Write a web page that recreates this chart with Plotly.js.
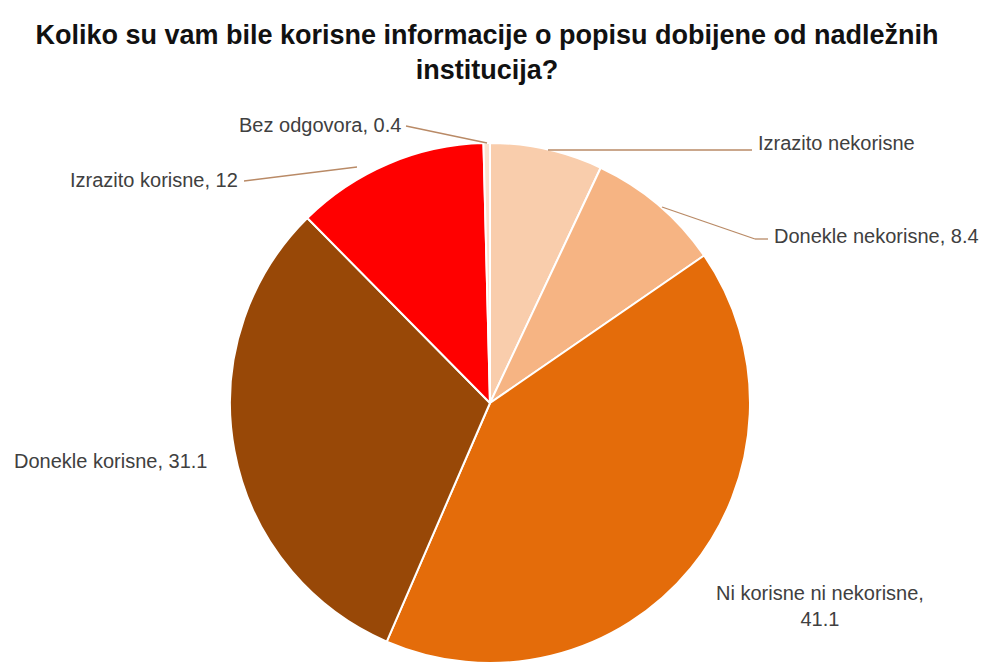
<!DOCTYPE html>
<html>
<head>
<meta charset="utf-8">
<script src="https://cdn.plot.ly/plotly-3.0.1.min.js"></script>
<style>html,body{margin:0;padding:0;background:#fff;}#chart{width:998px;height:663px;}</style>
</head>
<body>
<div id="chart"></div>
<script>
const categories = ["Izrazito nekorisne", "Donekle nekorisne", "Ni korisne ni nekorisne", "Donekle korisne", "Izrazito korisne", "Bez odgovora"];
const values = [7.0, 8.4, 41.1, 31.1, 12, 0.4];
const colors = ["#F9CDAC", "#F6B483", "#E46C0A", "#984807", "#FF0000", "#FBE2CF"];
const showValue = [false, true, true, true, true, true];

const W = 998, H = 663;
const px = x => x / W;
const py = y => 1 - y / H;

// label placement (pixels)
const labelPos = [
  {x: 756, y: 143, xa: "left", line: [[548, 150], [752, 150]]},
  {x: 772, y: 236, xa: "left", line: [[662, 207], [755, 239], [768, 239]]},
  {x: 820, y: 606, xa: "center", line: null, br: true},
  {x: 12, y: 461, xa: "left", line: null},
  {x: 240, y: 180, xa: "right", line: [[357, 167], [244, 181]]},
  {x: 403, y: 125, xa: "right", line: [[406, 126], [487, 143]]}
];

const annotations = [];
const shapes = [];
categories.forEach((c, i) => {
  const p = labelPos[i];
  let txt = showValue[i] ? c + ", " + values[i] : c;
  if (p.br) txt = c + ",<br>" + values[i];
  annotations.push({
    xref: "paper", yref: "paper", x: px(p.x), y: py(p.y),
    xanchor: p.xa, yanchor: "middle", showarrow: false, text: txt,
    align: "center",
    font: {family: "Liberation Sans, Arial, sans-serif", size: 20, color: "#404040"}
  });
  if (p.line) {
    for (let k = 0; k < p.line.length - 1; k++) {
      shapes.push({type: "line", xref: "paper", yref: "paper",
        x0: px(p.line[k][0]), y0: py(p.line[k][1]), x1: px(p.line[k+1][0]), y1: py(p.line[k+1][1]),
        line: {color: "#B98A66", width: 1.3}});
    }
  }
});

const data = [{
  type: "pie",
  labels: categories,
  values: values,
  sort: false,
  direction: "clockwise",
  rotation: 0,
  textinfo: "none",
  marker: {colors: colors, line: {color: "#FFFFFF", width: 2}},
  domain: {x: [px(229), px(751)], y: [py(664), py(143)]},
  showlegend: false
}];

const layout = {
  width: W, height: H,
  margin: {l: 0, r: 0, t: 0, b: 0},
  paper_bgcolor: "#FFFFFF",
  title: {
    text: "Koliko su vam bile korisne informacije o popisu dobijene od nadležnih<br>institucija?",
    x: 0.488, xanchor: "center", y: py(44), yanchor: "middle",
    font: {family: "Liberation Sans, Arial, sans-serif", size: 27, color: "#111111", weight: "bold"}
  },
  annotations: annotations,
  shapes: shapes
};

Plotly.newPlot("chart", data, layout, {displayModeBar: false, staticPlot: true});
</script>
</body>
</html>
